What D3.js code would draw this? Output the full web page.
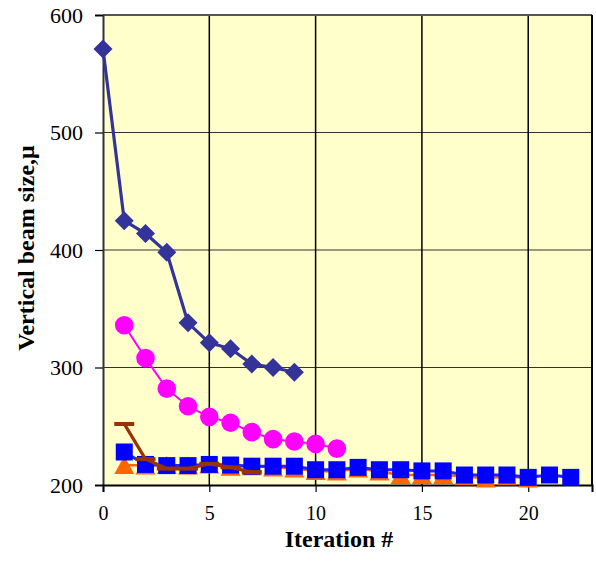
<!DOCTYPE html>
<html>
<head>
<meta charset="utf-8">
<script src="https://cdn.jsdelivr.net/npm/d3@7"></script>
<style>
  body { margin: 0; background: #fff; }
  svg text { font-family: "Times New Roman", "Liberation Serif", Times, serif !important; }
</style>
</head>
<body>
<div id="chart"></div>
<script>
// data
const xDiamond = [0, 1, 2, 3, 4, 5, 6, 7, 8, 9];
const yDiamond = [571, 425, 414, 398, 338, 321, 316, 303, 300, 296];
const xCircle = [1, 2, 3, 4, 5, 6, 7, 8, 9, 10, 11];
const yCircle = [336, 308, 282, 267, 258, 253, 245, 239, 237, 235, 231];
const xTriangle = d3.range(1, 21);
const yTriangle = [217, 216.5, 217, 216.5, 217.5, 215.5, 216, 215, 214, 212, 211.5, 214, 211.5, 208.5, 208.5, 208.5, 207.5, 205.5, 207.5, 205.5];
const xSquare = d3.range(1, 23);
const ySquare = [228, 217.5, 216.5, 216.5, 217.5, 217, 216, 216, 216, 213, 213, 215, 213, 213, 212, 212, 208.5, 208.5, 208.5, 206.5, 208.5, 206.5];
const xDash = [1, 2, 3, 4, 5, 6, 7];
const yDash = [252, 222, 214, 214, 218, 215, 211];
const xTicks = [0, 5, 10, 15, 20];
const yTicks = [200, 300, 400, 500, 600];

const W = 596, H = 561;
const m = {left: 103, right: 4, top: 15, bottom: 76};

const svg = d3.select('#chart').append('svg').attr('width', W).attr('height', H);

const x = d3.scaleLinear().domain([0, 23]).range([m.left, W - m.right]);
const y = d3.scaleLinear().domain([200, 600]).range([H - m.bottom, m.top]);

// plot area
svg.append('rect').attr('x', x(0)).attr('y', y(600)).attr('width', x(23) - x(0)).attr('height', y(200) - y(600)).attr('fill', '#FFFFCC');

// grid
svg.append('g').selectAll('line').data(yTicks.filter(d => d > 200 && d < 600)).join('line')
    .attr('x1', x(0)).attr('x2', x(23)).attr('y1', d => y(d)).attr('y2', d => y(d))
    .attr('stroke', '#333').attr('stroke-width', 1.2);
svg.append('g').selectAll('line').data(xTicks.filter(d => d > 0)).join('line')
    .attr('x1', d => x(d)).attr('x2', d => x(d)).attr('y1', y(200)).attr('y2', y(600))
    .attr('stroke', '#000').attr('stroke-width', 1.5);

// plot border top / right
svg.append('line').attr('x1', x(0)).attr('x2', x(23)).attr('y1', y(600)).attr('y2', y(600)).attr('stroke', '#555').attr('stroke-width', 2);
svg.append('line').attr('x1', x(23)).attr('x2', x(23)).attr('y1', y(600)).attr('y2', y(200)).attr('stroke', '#000').attr('stroke-width', 2);

// axes
const yAxis = svg.append('g').attr('transform', `translate(${x(0)},0)`)
    .call(d3.axisLeft(y).tickValues(yTicks).tickSize(8).tickPadding(12).tickFormat(d3.format('d')));
yAxis.attr('font-family', null);
yAxis.select('.domain').attr('stroke', '#333').attr('stroke-width', 2);
yAxis.selectAll('.tick line').attr('stroke', '#000').attr('stroke-width', 1.2);
yAxis.selectAll('text').attr('font-size', 22).attr('fill', '#000');

const xAxis = svg.append('g').attr('transform', `translate(0,${y(200)})`)
    .call(d3.axisBottom(x).tickValues(xTicks).tickSize(7).tickPadding(14).tickFormat(d3.format('d')));
xAxis.attr('font-family', null);
xAxis.select('.domain').attr('stroke', '#000').attr('stroke-width', 2);
xAxis.selectAll('.tick line').attr('stroke', '#000').attr('stroke-width', 1.2);
xAxis.selectAll('text').attr('font-size', 20).attr('fill', '#000');

// titles
svg.append('text').text('Iteration #').attr('x', 339).attr('y', 547)
    .attr('text-anchor', 'middle').attr('font-size', 24).attr('font-weight', 'bold');
svg.append('text').text('Vertical beam size,μ').attr('transform', 'translate(34,248) rotate(-90)')
    .attr('text-anchor', 'middle').attr('font-size', 24).attr('font-weight', 'bold');

const line = d3.line().x(d => x(d[0])).y(d => y(d[1]));
const zip = (a, b) => a.map((v, i) => [v, b[i]]);

function series(xs, ys, color, width) {
    const pts = zip(xs, ys);
    svg.append('path').datum(pts).attr('d', line).attr('fill', 'none')
        .attr('stroke', color).attr('stroke-width', width).attr('stroke-linejoin', 'round');
    return svg.append('g').selectAll('path').data(pts).join('path').attr('fill', color);
}

// diamonds
series(xDiamond, yDiamond, '#333399', 3.2)
    .attr('d', d => { const cx = x(d[0]), cy = y(d[1]), r = 9.5;
        return `M${cx},${cy - r}L${cx + r},${cy}L${cx},${cy + r}L${cx - r},${cy}Z`; });

// circles
series(xCircle, yCircle, '#FF00FF', 2)
    .attr('d', d => d3.symbol(d3.symbolCircle, Math.PI * 9.3 * 9.3)())
    .attr('transform', d => `translate(${x(d[0])},${y(d[1])})`);

// triangles
series(xTriangle, yTriangle, '#FF6600', 2.5)
    .attr('d', d => { const cx = x(d[0]), cy = y(d[1]);
        return `M${cx},${cy - 9}L${cx + 10},${cy + 9}L${cx - 10},${cy + 9}Z`; });

// squares
series(xSquare, ySquare, '#2222FF', 3)
    .attr('fill', '#0000FF')
    .attr('d', d => { const cx = x(d[0]), cy = y(d[1]), r = 8.5;
        return `M${cx - r},${cy - r}h${2 * r}v${2 * r}h${-2 * r}Z`; });

// dashes
series(xDash, yDash, '#993300', 3.2)
    .attr('d', d => { const cx = x(d[0]), cy = y(d[1]);
        return `M${cx - 10},${cy - 2}h20v4h-20Z`; });
</script>
</body>
</html>
